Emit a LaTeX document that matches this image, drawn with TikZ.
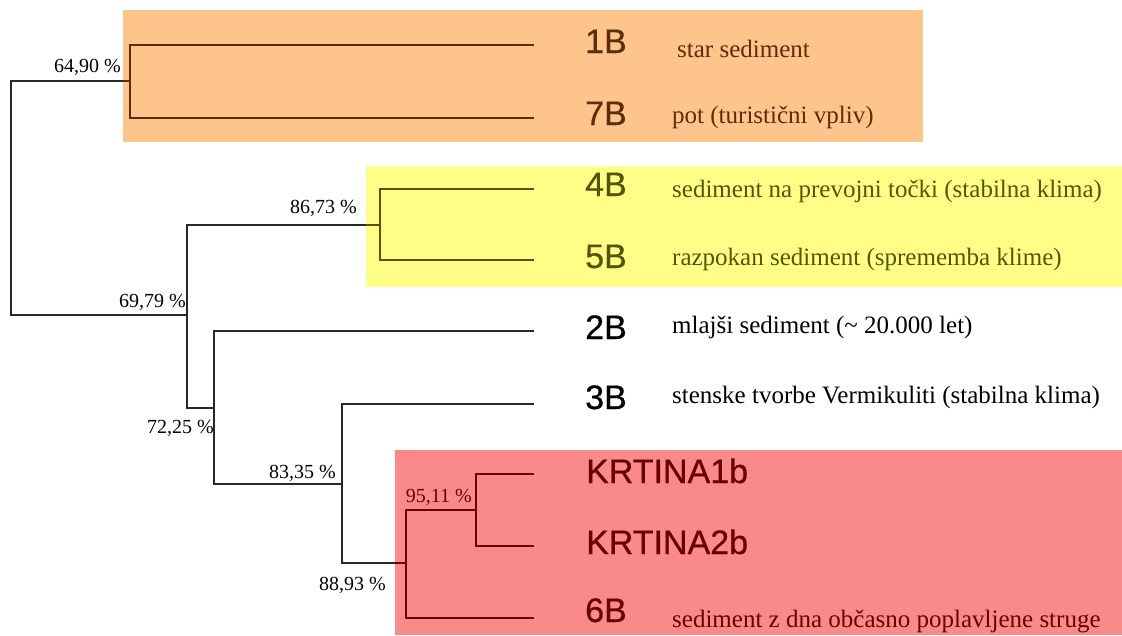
\documentclass[tikz,border=0pt]{standalone}
\usepackage{fontspec}
\setmainfont{Liberation Serif}
\newfontfamily\arialfont[FakeBold=0.6]{Liberation Sans}
\definecolor{boxorange}{RGB}{253,196,140}
\definecolor{boxyellow}{RGB}{255,255,135}
\definecolor{boxred}{RGB}{250,138,138}
\definecolor{inkorange}{RGB}{90,46,8}
\definecolor{inkyellow}{RGB}{85,85,0}
\definecolor{inkred}{RGB}{105,0,0}
\definecolor{inkgray}{RGB}{40,40,40}
\begin{document}
\begin{tikzpicture}[x=1pt,y=-1pt,
  branch/.style={line width=1.9pt},
  pct/.style={anchor=base east, inner sep=0pt, font=\fontsize{20}{24}\selectfont},
  leaf/.style={anchor=base west, inner sep=0pt, font=\arialfont\fontsize{34}{40}\selectfont},
  desc/.style={anchor=base west, inner sep=0pt, font=\fontsize{25}{30}\selectfont}]
\useasboundingbox (0,0) rectangle (1122,635);
% coloured group boxes
\fill[boxorange] (123,10) rectangle (923,142);
\fill[boxyellow] (366,166) rectangle (1122,287);
\fill[boxred] (395,450) rectangle (1122,635);
% internal nodes
\coordinate (root) at (11,198);
\coordinate (A) at (130,81);
\coordinate (B) at (187,315);
\coordinate (C) at (380,225);
\coordinate (D) at (214,408);
\coordinate (E) at (342,484);
\coordinate (F) at (406,563);
\coordinate (G) at (476,510);
% leaf ends
\coordinate (e1B) at (534,45);
\coordinate (e7B) at (534,118);
\coordinate (e4B) at (534,189);
\coordinate (e5B) at (534,260);
\coordinate (e2B) at (534,331);
\coordinate (e3B) at (534,404);
\coordinate (eK1) at (534,474);
\coordinate (eK2) at (534,546);
\coordinate (e6B) at (534,618);
\def\dendrolines#1{%
  \draw[branch,#1] (root) |- (A) (root) |- (B)
    (A) |- (e1B) (A) |- (e7B)
    (B) |- (C) (B) |- (D)
    (C) |- (e4B) (C) |- (e5B)
    (D) |- (e2B) (D) |- (E)
    (E) |- (e3B) (E) |- (F)
    (F) |- (G) (F) |- (e6B)
    (G) |- (eK1) (G) |- (eK2);}
\dendrolines{inkgray}
\begin{scope}
  \clip (123,10) rectangle (923,142);
  \dendrolines{inkorange}
\end{scope}
\begin{scope}
  \clip (366,166) rectangle (1122,287);
  \dendrolines{inkyellow}
\end{scope}
\begin{scope}
  \clip (395,450) rectangle (1122,635);
  \dendrolines{inkred}
\end{scope}
% similarity labels
\node[pct] (p1) at (121,72) {64,90 \%};
\node[pct] (p2) at (186,307) {69,79 \%};
\node[pct] (p3) at (357,213) {86,73 \%};
\node[pct] (p4) at (214,433) {72,25 \%};
\node[pct] (p5) at (336,478) {83,35 \%};
\node[pct, text=inkred] (p6) at (472,502) {95,11 \%};
\node[pct] (p7) at (386,590) {88,93 \%};
% leaf labels
\node[leaf, text=inkorange] (l1B) at (585,53) {1B};
\node[leaf, text=inkorange] (l7B) at (585,125) {7B};
\node[leaf, text=inkyellow] (l4B) at (585,196) {4B};
\node[leaf, text=inkyellow] (l5B) at (585,268) {5B};
\node[leaf] (l2B) at (585,339) {2B};
\node[leaf] (l3B) at (585,409) {3B};
\node[leaf, text=inkred] (lK1) at (586,483) {KRTINA1b};
\node[leaf, text=inkred] (lK2) at (586,554) {KRTINA2b};
\node[leaf, text=inkred] (l6B) at (585,622) {6B};
% descriptions
\node[desc, text=inkorange] (d1B) at (677,57) {star sediment};
\node[desc, text=inkorange] (d7B) at (672,123) {pot (turistični vpliv)};
\node[desc, text=inkyellow] (d4B) at (672,197) {sediment na prevojni točki (stabilna klima)};
\node[desc, text=inkyellow] (d5B) at (672,265) {razpokan sediment (sprememba klime)};
\node[desc] (d2B) at (672,333) {mlajši sediment (\textasciitilde{} 20.000 let)};
\node[desc] (d3B) at (672,403) {stenske tvorbe Vermikuliti (stabilna klima)};
\node[desc, text=inkred] (d6B) at (672,627) {sediment z dna občasno poplavljene struge};
\end{tikzpicture}
\end{document}
